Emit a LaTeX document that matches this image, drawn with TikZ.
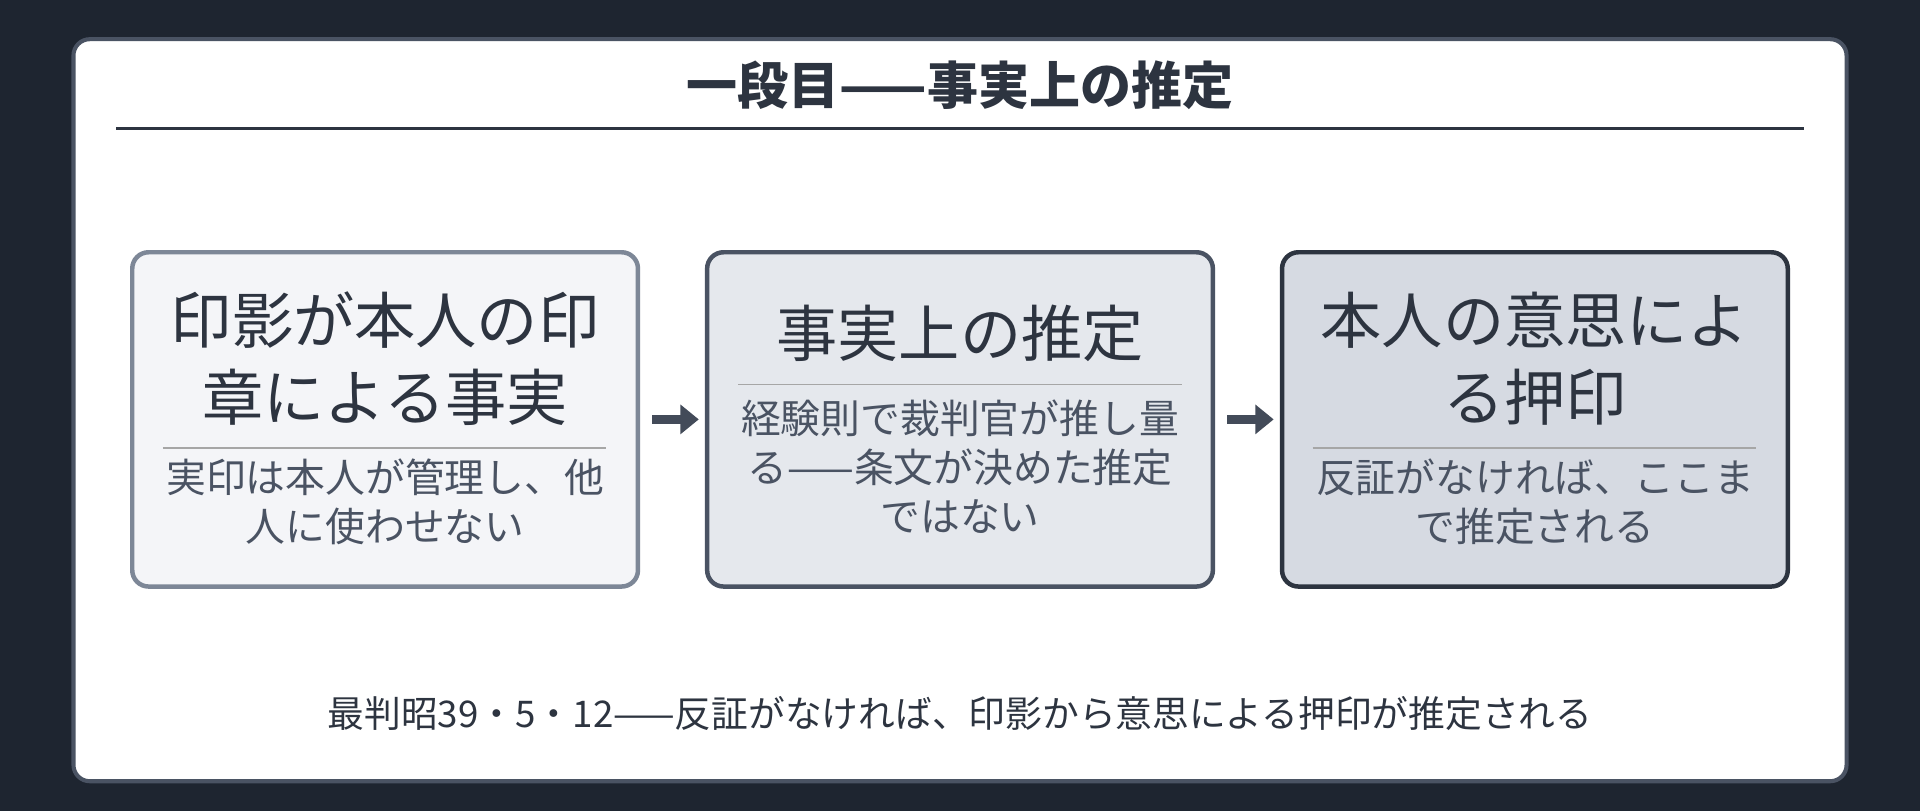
\documentclass[tikz,border=0pt]{standalone}
\usepackage{fontspec}
\setmainfont{Noto Sans CJK JP}
\usetikzlibrary{arrows.meta}
\definecolor{bgdark}{HTML}{1E2530}
\definecolor{inkdark}{HTML}{2D3440}
\definecolor{subgray}{HTML}{4A5363}
\definecolor{paleA}{HTML}{F4F5F8}
\definecolor{paleB}{HTML}{E5E8ED}
\definecolor{paleC}{HTML}{D6DAE2}
\definecolor{edgeA}{HTML}{7D8797}
\begin{document}
\begin{tikzpicture}
    [
        x=0.6pt,y=-0.6pt,
        stepbox/.style={draw,line width=2.2pt,rounded corners=8pt,
            minimum width=247.8pt,minimum height=163.8pt},
        maintext/.style={align=center,text=inkdark,
            font=\fontsize{30pt}{38pt}\selectfont},
        subtext/.style={align=center,text=subgray,
            font=\fontsize{19.5pt}{24pt}\selectfont},
        sep/.style={draw=gray!70,line width=0.8pt},
        flow/.style={-{Triangle[length=9pt,width=14pt]},line width=4.5pt,
            draw=subgray!90!black,shorten <=6pt,shorten >=3pt},
    ]
    \useasboundingbox (0,0) rectangle (1568,662);
    % Background and card
    \fill[bgdark] (0,0) rectangle (1568,662);
    \draw[fill=white,draw=subgray,line width=2pt,rounded corners=8pt]
        (60,32) rectangle (1508,638);
    % Title
    \node[text=inkdark,font=\fontsize{25pt}{30pt}\selectfont\bfseries] (title)
        at (784,70) {一段目——事実上の推定};
    \draw[inkdark,line width=1.2pt] (95,105) -- (1473,105);
    % The three steps
    \node[stepbox,fill=paleA,draw=edgeA] (fact) at (314.5,342.5) {};
    \node[stepbox,fill=paleB,draw=subgray] (guess) at (784,342.5) {};
    \node[stepbox,fill=paleC,draw=inkdark] (seal) at (1253.5,342.5) {};
    \node[maintext] (factmain) at (314.5,293) {印影が本人の印\\章による事実};
    \node[subtext] (factsub) at (314.5,410) {実印は本人が管理し、他\\人に使わせない};
    \node[maintext] (guessmain) at (784,272) {事実上の推定};
    \node[subtext] (guesssub) at (784,381) {経験則で裁判官が推し量\\る——条文が決めた推定\\ではない};
    \node[maintext] (sealmain) at (1253.5,293) {本人の意思によ\\る押印};
    \node[subtext] (sealsub) at (1253.5,410) {反証がなければ、ここま\\で推定される};
    \draw[sep] (133,366) -- (495,366);
    \draw[sep] (603,314) -- (965,314);
    \draw[sep] (1072,366) -- (1434,366);
    % Arrows
    \draw[flow] (fact) -- (guess);
    \draw[flow] (guess) -- (seal);
    % Caption
    \node[text=inkdark,font=\fontsize{18pt}{22pt}\selectfont] (note) at (784,583)
        {最判昭39・5・12——反証がなければ、印影から意思による押印が推定される};
\end{tikzpicture}
\end{document}
